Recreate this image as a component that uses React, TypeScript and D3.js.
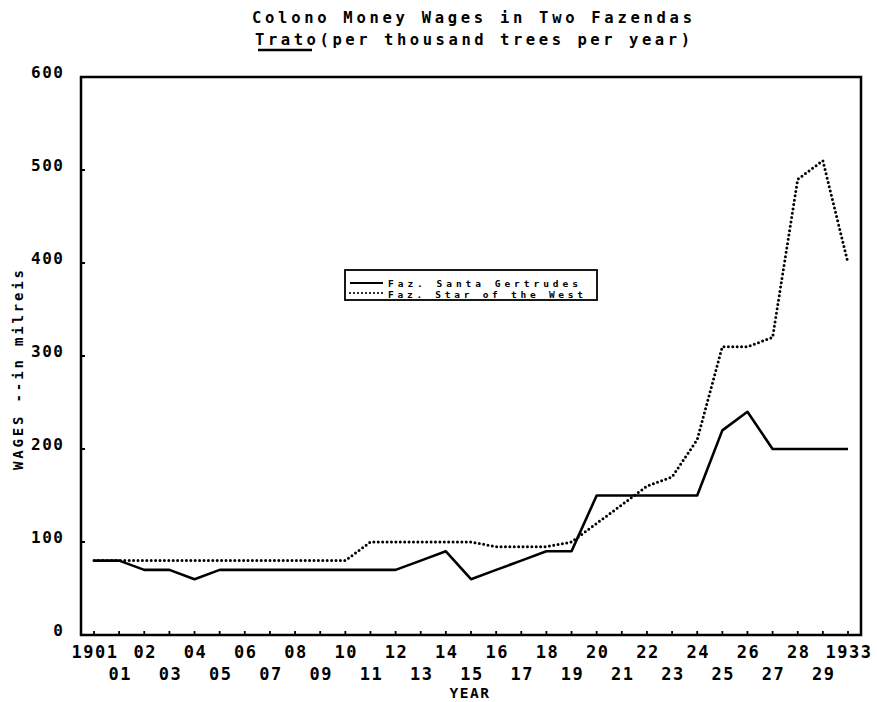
import React from "react";
import * as d3 from "d3";

const xLabels: string[] = [
  "1901", "01", "02", "03", "04", "05", "06", "07", "08", "09", "10",
  "11", "12", "13", "14", "15", "16", "17", "18", "19", "20",
  "21", "22", "23", "24", "25", "26", "27", "28", "29", "1933",
];

const santaGertrudes: number[] = [
  80, 80, 70, 70, 60, 70, 70, 70, 70, 70, 70,
  70, 70, 80, 90, 60, 70, 80, 90, 90, 150,
  150, 150, 150, 150, 220, 240, 200, 200, 200, 200,
];

const starOfTheWest: number[] = [
  80, 80, 80, 80, 80, 80, 80, 80, 80, 80, 80,
  100, 100, 100, 100, 100, 95, 95, 95, 100, 120,
  140, 160, 170, 210, 310, 310, 320, 490, 510, 400,
];

const yTicks: number[] = [0, 100, 200, 300, 400, 500, 600];

const seriesNames: string[] = ["Faz. Santa Gertrudes", "Faz. Star of the West"];

const titleLine1 = "Colono Money Wages in Two Fazendas";
const titleLine2a = "Trato";
const titleLine2b = "(per thousand trees per year)";
const yTitle = "WAGES --in milreis";
const xTitle = "YEAR";

const FONT = "'DejaVu Sans Mono', monospace";

export default function App() {
  const W = 877;
  const H = 702;
  const frame = { left: 81, right: 861, top: 77, bottom: 635 };

  const x = d3.scaleLinear().domain([0, xLabels.length - 1]).range([94, 848]);
  const y = d3.scaleLinear().domain([0, 600]).range([frame.bottom, frame.top]);

  const line = d3
    .line<number>()
    .x((_, i) => x(i))
    .y((d) => y(d));

  const idx = d3.range(xLabels.length);

  return (
    <svg
      width={W}
      height={H}
      style={{ position: "absolute", left: 0, top: 0, background: "#fff" }}
    >
      <rect x={0} y={0} width={W} height={H} fill="#fff" />

      {/* Title */}
      <text
        x={252}
        y={23}
        fontFamily={FONT}
        fontWeight="bold"
        fontSize={15.5}
        textLength={440}
        lengthAdjust="spacing"
        fill="#000"
      >
        {titleLine1}
      </text>
      <text
        x={255}
        y={45}
        fontFamily={FONT}
        fontWeight="bold"
        fontSize={15.5}
        textLength={435}
        lengthAdjust="spacing"
        fill="#000"
      >
        {titleLine2a + titleLine2b}
      </text>
      <line x1={258} x2={312} y1={50} y2={50} stroke="#000" strokeWidth={2.5} />

      {/* Frame */}
      <rect
        x={frame.left}
        y={frame.top}
        width={frame.right - frame.left}
        height={frame.bottom - frame.top}
        fill="none"
        stroke="#000"
        strokeWidth={2.5}
      />

      {/* Y ticks & labels */}
      {yTicks.map((t) => (
        <g key={t}>
          {t > 0 && t < 600 && (
            <line
              x1={frame.left}
              x2={frame.left + 4}
              y1={y(t)}
              y2={y(t)}
              stroke="#000"
              strokeWidth={2}
            />
          )}
          <text
            x={64.5}
            y={y(t) + 1}
            textAnchor="end"
            fontFamily={FONT}
            fontWeight="bold"
            fontSize={16}
            letterSpacing={1.5}
            fill="#000"
          >
            {t}
          </text>
        </g>
      ))}

      {/* X ticks & labels */}
      {idx.map((i) => (
        <g key={i}>
          <line
            x1={x(i)}
            x2={x(i)}
            y1={frame.bottom}
            y2={frame.bottom - 4}
            stroke="#000"
            strokeWidth={1.8}
          />
          <text
            x={x(i) + 1}
            y={i % 2 === 0 ? 658 : 680}
            textAnchor="middle"
            fontFamily={FONT}
            fontWeight="bold"
            fontSize={17}
            letterSpacing={1.5}
            fill="#000"
          >
            {xLabels[i]}
          </text>
        </g>
      ))}

      {/* Axis titles */}
      <text
        x={470}
        y={698}
        textAnchor="middle"
        fontFamily={FONT}
        fontWeight="bold"
        fontSize={14.5}
        letterSpacing={1.5}
        fill="#000"
      >
        {xTitle}
      </text>
      <text
        transform="translate(23,470) rotate(-90)"
        x={0}
        y={0}
        fontFamily={FONT}
        fontWeight="bold"
        fontSize={14}
        textLength={200}
        lengthAdjust="spacing"
        fill="#000"
      >
        {yTitle}
      </text>

      {/* Series */}
      <path
        d={line(santaGertrudes) || ""}
        fill="none"
        stroke="#000"
        strokeWidth={2.6}
        strokeLinejoin="round"
      />
      <path
        d={line(starOfTheWest) || ""}
        fill="none"
        stroke="#000"
        strokeWidth={3}
        strokeDasharray="0 4.4"
        strokeLinecap="round"
      />

      {/* Legend */}
      <rect x={345} y={270} width={252} height={30} fill="#fff" stroke="#000" strokeWidth={1.8} />
      <line x1={350} x2={383} y1={283} y2={283} stroke="#000" strokeWidth={2.2} />
      <line
        x1={350}
        x2={385}
        y1={293}
        y2={293}
        stroke="#000"
        strokeWidth={2.2}
        strokeDasharray="0 4"
        strokeLinecap="round"
      />
      <text
        x={388}
        y={286.5}
        fontFamily={FONT}
        fontWeight="bold"
        fontSize={9.5}
        textLength={190}
        lengthAdjust="spacing"
        fill="#000"
      >
        {seriesNames[0]}
      </text>
      <text
        x={388}
        y={297.5}
        fontFamily={FONT}
        fontWeight="bold"
        fontSize={9.5}
        textLength={195}
        lengthAdjust="spacing"
        fill="#000"
      >
        {seriesNames[1]}
      </text>
    </svg>
  );
}
